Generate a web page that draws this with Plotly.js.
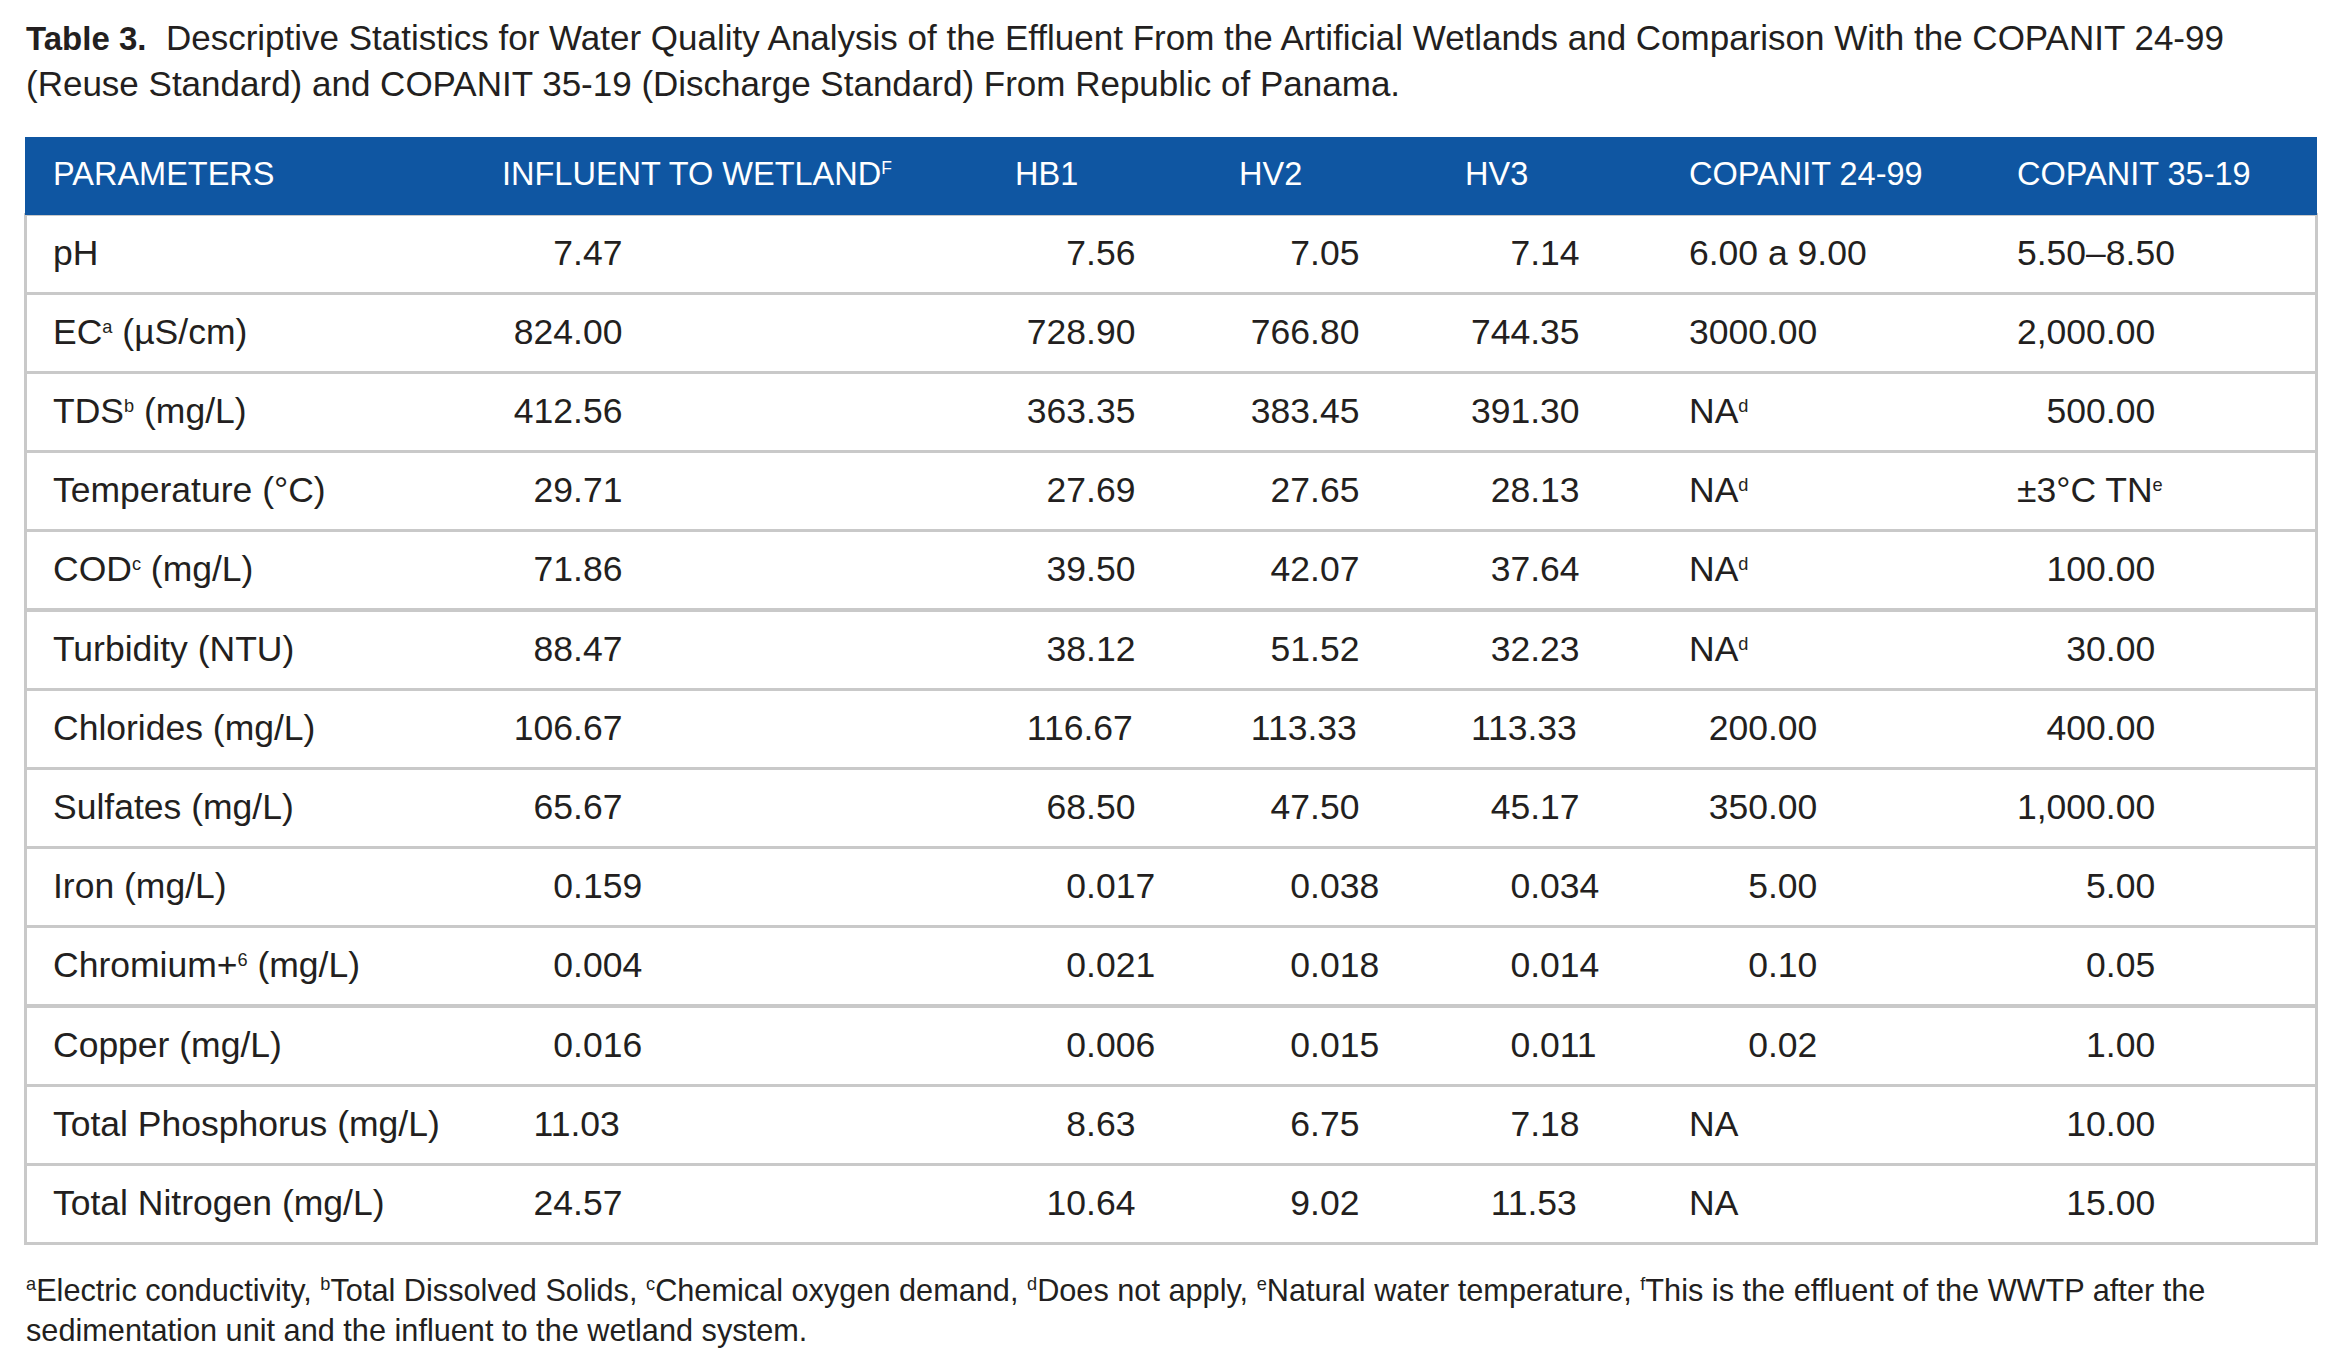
<!DOCTYPE html>
<html>
<head>
<meta charset="utf-8">
<script src="https://cdn.plot.ly/plotly-3.0.1.min.js"></script>
<style>html,body{margin:0;padding:0;background:#ffffff;}</style>
</head>
<body>
<div id="chart" style="width:2342px;height:1370px;"></div>
<script>
// ---------------- data ----------------
const headers = ['PARAMETERS', 'INFLUENT TO WETLAND<sup>F</sup>', 'HB1', 'HV2', 'HV3', 'COPANIT 24-99', 'COPANIT 35-19'];
const parameters = ['pH', 'EC<sup>a</sup> (µS/cm)', 'TDS<sup>b</sup> (mg/L)', 'Temperature (°C)', 'COD<sup>c</sup> (mg/L)',
  'Turbidity (NTU)', 'Chlorides (mg/L)', 'Sulfates (mg/L)', 'Iron (mg/L)', 'Chromium+<sup>6</sup> (mg/L)',
  'Copper (mg/L)', 'Total Phosphorus (mg/L)', 'Total Nitrogen (mg/L)'];
const influent = ['7.47', '824.00', '412.56', '29.71', '71.86', '88.47', '106.67', '65.67', '0.159', '0.004', '0.016', '11.03', '24.57'];
const hb1 = ['7.56', '728.90', '363.35', '27.69', '39.50', '38.12', '116.67', '68.50', '0.017', '0.021', '0.006', '8.63', '10.64'];
const hv2 = ['7.05', '766.80', '383.45', '27.65', '42.07', '51.52', '113.33', '47.50', '0.038', '0.018', '0.015', '6.75', '9.02'];
const hv3 = ['7.14', '744.35', '391.30', '28.13', '37.64', '32.23', '113.33', '45.17', '0.034', '0.014', '0.011', '7.18', '11.53'];
const copanit2499 = ['6.00 a 9.00', '3000.00', 'NA<sup>d</sup>', 'NA<sup>d</sup>', 'NA<sup>d</sup>', 'NA<sup>d</sup>', '200.00', '350.00', '5.00', '0.10', '0.02', 'NA', 'NA'];
const copanit3519 = ['5.50–8.50', '2,000.00', '500.00', '±3°C TN<sup>e</sup>', '100.00', '30.00', '400.00', '1,000.00', '5.00', '0.05', '1.00', '10.00', '15.00'];

const titleLabel = 'Table 3.';
const titleText = 'Descriptive Statistics for Water Quality Analysis of the Effluent From the Artificial Wetlands and Comparison With the COPANIT 24-99<br>(Reuse Standard) and COPANIT 35-19 (Discharge Standard) From Republic of Panama.';
const footnoteText = '<sup>a</sup>Electric conductivity, <sup>b</sup>Total Dissolved Solids, <sup>c</sup>Chemical oxygen demand, <sup>d</sup>Does not apply, <sup>e</sup>Natural water temperature, <sup>f</sup>This is the effluent of the WWTP after the<br>sedimentation unit and the influent to the wetland system.';

// ---------------- style / geometry ----------------
const W = 2342, H = 1370;
const tableLeft = 25, tableRight = 2316, tableTop = 137;
const headerHeight = 77, rowHeight = 79.2;
const colWidths = [449, 513, 224, 226, 224, 328, 327];
const textShiftX = 20, textShiftY = 10.5;
const colIndent = [0, 2, 2, 2, 1, 0, 0];   // six-per-em spaces before each column's entries
const headerBlue = '#0f56a2';
const gridGray = '#c9c9c9';
const textColor = '#231f20';
const FONT = 'Liberation Sans, Arial, Helvetica, sans-serif';
const headerSize = 32.5, bodySize = 35.5;
const supBaseBody = 26, supBaseHeader = 25, supBaseNote = 26;

// small superscripts; a trailing line break keeps the cell from being re-wrapped
function styleSup(s, base, keepWhole) {
  if (!/<sup>/.test(s)) return keepWhole ? '<span>' + s + '</span>' : s;
  const t = s.replace(/<sup>(.*?)<\/sup>/g, '<span style="font-size:' + base + 'px"><sup>$1</sup></span>');
  return keepWhole ? t + '<br>' : t;
}

// decimal alignment of numeric entries inside a column
function alignColumn(col, indent) {
  const num = /^[\d,]+\.\d+$/;
  let maxInt = '';
  col.forEach(s => { if (num.test(s)) { const ip = s.split('.')[0]; if (ip.length > maxInt.length) maxInt = ip; } });
  const ind = '\u2006'.repeat(indent);
  return col.map(s => {
    let pad = '';
    if (num.test(s)) {
      const ip = s.split('.')[0];
      pad = maxInt.slice(0, maxInt.length - ip.length).replace(/\d/g, '\u2007').replace(/,/g, '\u00a0');
    }
    return styleSup(ind + pad + s, supBaseBody, true);
  });
}

const columns = [parameters, influent, hb1, hv2, hv3, copanit2499, copanit3519];
const alignedColumns = columns.map((c, i) => alignColumn(c, colIndent[i]));
const headerLabels = headers.map(h => styleSup(h, supBaseHeader, true));

// background grid (rules and header band)
const gridTrace = {
  type: 'table',
  domain: {x: [tableLeft / W, tableRight / W], y: [0, 1 - tableTop / H]},
  columnwidth: [1],
  header: {
    values: [''],
    height: headerHeight,
    fill: {color: headerBlue},
    line: {color: headerBlue, width: 1},
    font: {size: headerSize, color: '#ffffff', family: FONT}
  },
  cells: {
    values: [parameters.map(() => '')],
    height: rowHeight,
    fill: {color: '#ffffff'},
    line: {color: gridGray, width: 3},
    font: {size: bodySize, color: textColor, family: FONT}
  }
};

// text layer
const textTrace = {
  type: 'table',
  domain: {x: [(tableLeft + textShiftX) / W, (tableRight + textShiftX) / W], y: [0, 1 - (tableTop + textShiftY) / H]},
  columnwidth: colWidths,
  header: {
    values: headerLabels,
    align: 'left',
    height: headerHeight,
    fill: {color: 'rgba(0,0,0,0)'},
    line: {color: 'rgba(0,0,0,0)', width: 0},
    font: {size: headerSize, color: '#ffffff', family: FONT}
  },
  cells: {
    values: alignedColumns,
    align: 'left',
    height: rowHeight,
    fill: {color: 'rgba(0,0,0,0)'},
    line: {color: 'rgba(0,0,0,0)', width: 0},
    font: {size: bodySize, color: textColor, family: FONT}
  }
};

const layout = {
  width: W, height: H,
  margin: {l: 0, r: 0, t: 0, b: 0},
  paper_bgcolor: '#ffffff',
  showlegend: false,
  annotations: [
    {
      text: '<b><span style="font-size:33px">' + titleLabel + '</span></b>\u00a0\u00a0' + titleText,
      xref: 'paper', yref: 'paper',
      x: 24 / W, y: 1 - 16 / H, xanchor: 'left', yanchor: 'top', align: 'left',
      showarrow: false, font: {size: 35, color: textColor, family: FONT}
    },
    {
      text: styleSup(footnoteText, supBaseNote, false), xref: 'paper', yref: 'paper',
      x: 24 / W, y: 1 - 1271 / H, xanchor: 'left', yanchor: 'top', align: 'left',
      showarrow: false, font: {size: 30.7, color: textColor, family: FONT}
    }
  ]
};

Plotly.newPlot('chart', [gridTrace, textTrace], layout, {displayModeBar: false, responsive: false});
</script>
</body>
</html>
